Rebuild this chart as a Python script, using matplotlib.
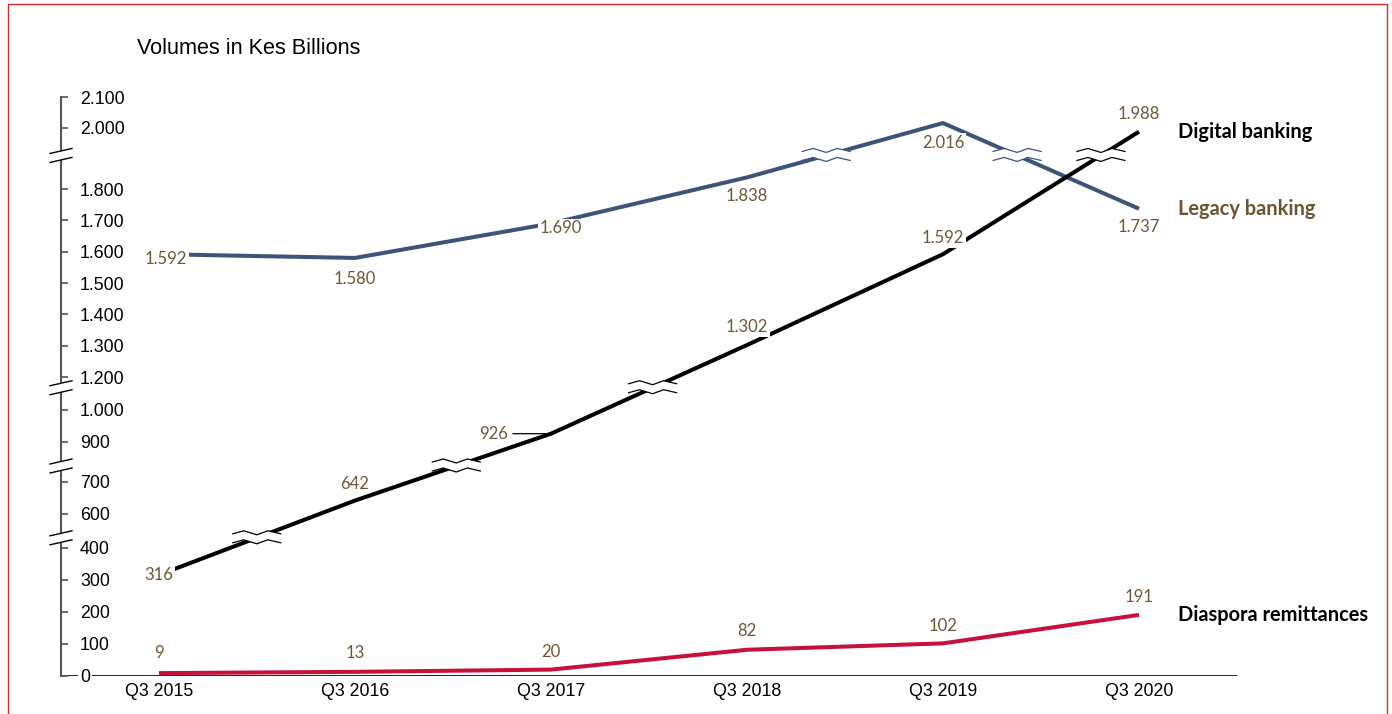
import numpy as np
import matplotlib

matplotlib.use("Agg")
import matplotlib.pyplot as plt  # noqa: E402
from matplotlib.lines import Line2D  # noqa: E402
from matplotlib.patches import Polygon, Rectangle  # noqa: E402
from matplotlib.ticker import FuncFormatter  # noqa: E402
from matplotlib.transforms import Affine2D, ScaledTranslation  # noqa: E402

plt.rcParams["font.family"] = "Liberation Sans"

QUARTERS = ["Q3 2015", "Q3 2016", "Q3 2017", "Q3 2018", "Q3 2019", "Q3 2020"]
DIGITAL = [316, 642, 926, 1302, 1592, 1988]
LEGACY = [1592, 1580, 1690, 1838, 2016, 1737]
DIASPORA = [9, 13, 20, 82, 102, 191]
Y_TICKS = [0, 100, 200, 300, 400, 600, 700, 900, 1000, 1200, 1300,
           1400, 1500, 1600, 1700, 1800, 2000, 2100]

# piecewise-linear broken axis: value -> height above the baseline (px)
KNOT_VALUES = [0, 400, 600, 700, 900, 1000, 1200, 1800, 2000, 2100]
KNOT_HEIGHTS = [0, 128, 162, 194, 234, 266, 299, 487, 548, 579]
BREAKS = [460, 780, 1135, 1910]

LABEL_COLOR = "#6d5736"
COLORS = {"digital": "black", "legacy": "#3d5478", "diaspora": "#c8103c"}

# label offsets in px (right, down) relative to each point
LEGACY_OFFSETS = [(7, 5), (0, 21), (10, 5), (0, 19), (0, 20), (0, 18)]
DIGITAL_OFFSETS = [(0, 0), (0, -17), (-57, 0), (0, -18), (0, -16), (0, -18)]
DIASPORA_OFFSETS = [(0, -20), (0, -19), (0, -18), (0, -19), (0, -17), (0, -18)]

_kv = np.r_[-1e4, KNOT_VALUES, 1.2e4]
_kh = np.r_[-3200, KNOT_HEIGHTS, 579 + 0.32 * 9900]


def fwd(v):
    return np.interp(v, _kv, _kh)


def inv(h):
    return np.interp(h, _kh, _kv)


def crossings(values, b):
    h = fwd(np.asarray(values, float))
    hb = fwd(b)
    out = []
    for i in range(len(h) - 1):
        if (h[i] - hb) * (h[i + 1] - hb) < 0:
            out.append(i + (hb - h[i]) / (h[i + 1] - h[i]))
    return out


WAVE_X = np.array([-24, -13, 0, 11, 24])
WAVE_Y = np.array([-0.5, 2.5, -1.5, 2.5, -0.5])


def wave_break(ax, x, y, color):
    tr = Affine2D().scale(ax.figure.dpi / 100) + ScaledTranslation(x, y, ax.transData)
    up = np.c_[WAVE_X, WAVE_Y + 4.5]
    lo = np.c_[WAVE_X, WAVE_Y - 4.5]
    ax.add_artist(Polygon(np.r_[up, lo[::-1]], closed=True, fc="white", ec="none",
                          transform=tr, zorder=4, clip_on=False))
    for pts in (up, lo):
        ax.add_artist(Line2D(pts[:, 0], pts[:, 1], color=color, lw=0.9,
                             transform=tr, zorder=4.5, clip_on=False))


def axis_break(ax, b):
    tr = Affine2D().scale(ax.figure.dpi / 100) + ScaledTranslation(0, b, ax.get_yaxis_transform())
    seg = np.array([[-11, -2.5], [11, 2.5]])
    up = seg + [0, 4.5]
    lo = seg - [0, 4.5]
    ax.add_artist(Polygon(np.r_[up, lo[::-1]], closed=True, fc="white", ec="none",
                          transform=tr, zorder=4, clip_on=False))
    for pts in (up, lo):
        ax.add_artist(Line2D(pts[:, 0], pts[:, 1], color="black", lw=1.0,
                             transform=tr, zorder=4.5, clip_on=False))


def value_labels(ax, values, offsets, leader=()):
    for i, (v, (dx, dy)) in enumerate(zip(values, offsets)):
        kw = {}
        if i in leader:
            kw["arrowprops"] = dict(arrowstyle="-", color="black", lw=0.9,
                                    shrinkA=2, shrinkB=0)
        ax.annotate(f"{v:,}".replace(",", "."), (i, v),
                    xytext=(dx * 0.72, -dy * 0.72), textcoords="offset points",
                    ha="center", va="center", fontsize=12, family="Lato",
                    color=LABEL_COLOR, zorder=6,
                    bbox=dict(boxstyle="square,pad=0.1", fc="white", ec="none"), **kw)


fig = plt.figure(figsize=(13.92, 7.14), dpi=100)
ax = fig.add_axes([61 / 1392, 38 / 714, 1176 / 1392, 579 / 714])
ax.set_yscale("function", functions=(fwd, inv))

x = np.arange(len(QUARTERS))
ax.plot(x, LEGACY, color=COLORS["legacy"], lw=2.9, zorder=3, solid_capstyle="butt")
ax.plot(x, DIGITAL, color=COLORS["digital"], lw=2.9, zorder=3, solid_capstyle="butt")
ax.plot(x, DIASPORA, color=COLORS["diaspora"], lw=2.9, zorder=3, solid_capstyle="butt")

ax.set_xlim(-0.5, 5.5)
ax.set_ylim(0, 2100)

# break marks where each series passes a gap in the axis
for series, key in ((DIGITAL, "digital"), (LEGACY, "legacy")):
    for b in BREAKS:
        for xc in crossings(series, b):
            wave_break(ax, xc, b, COLORS[key])
for b in BREAKS:
    axis_break(ax, b)

value_labels(ax, LEGACY, LEGACY_OFFSETS)
value_labels(ax, DIGITAL, DIGITAL_OFFSETS, leader=(2,))
value_labels(ax, DIASPORA, DIASPORA_OFFSETS)

# series names at the right end of each line
for series, name, color in ((DIGITAL, "Digital banking", "black"),
                            (LEGACY, "Legacy banking", "#6b5430"),
                            (DIASPORA, "Diaspora remittances", "black")):
    ax.annotate(name, (len(series) - 1, series[-1]), xytext=(28, 0),
                textcoords="offset points", ha="left", va="center",
                fontsize=14.4, family="Lato", fontweight="bold", color=color,
                annotation_clip=False)

# axes styling
for side in ("top", "right", "bottom"):
    ax.spines[side].set_visible(False)
ax.spines["left"].set_color("#555555")
ax.spines["left"].set_linewidth(1.5)
ax.axhline(0, color="black", lw=1.2, zorder=1)

ax.set_yticks(Y_TICKS)
ax.yaxis.set_major_formatter(FuncFormatter(lambda v, _: f"{v:,.0f}".replace(",", ".")))
ax.yaxis.set_minor_locator(plt.NullLocator())
ax.tick_params(axis="y", direction="in", length=5, width=1.2, color="#555555",
               pad=-13.7, labelsize=12.8)
plt.setp(ax.get_yticklabels(), ha="left")
ax.get_yticklabels()[0].set_bbox(dict(boxstyle="square,pad=0.1", fc="white", ec="none"))

ax.set_xticks(x, QUARTERS)
ax.tick_params(axis="x", length=0, pad=4.8, labelsize=12.8)

fig.text(137 / 1392, 1 - 48 / 714, "Volumes in Kes Billions", fontsize=15.6,
         ha="left", va="center")

fig.add_artist(Rectangle((8 / 1392, -0.02), 1379 / 1392, 1.02 - 4 / 714,
                         transform=fig.transFigure, fill=False,
                         ec="#d9262b", lw=1.0))

fig.savefig("out.png", dpi=100)
